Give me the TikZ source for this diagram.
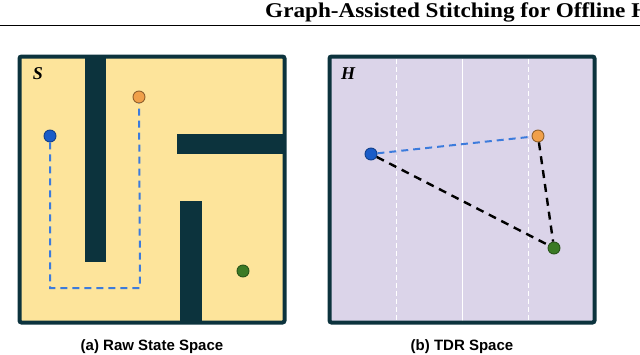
\documentclass[tikz,border=0pt]{standalone}
\usepackage{fontspec}
\setmainfont{Liberation Serif}
\newfontfamily\capfont{Liberation Sans}
\usetikzlibrary{positioning}

\definecolor{wall}{HTML}{0C333D}
\definecolor{mazefill}{HTML}{FDE49B}
\definecolor{tdrfill}{HTML}{DBD4E9}
\definecolor{dotblue}{HTML}{1A5CC8}
\definecolor{dotorange}{HTML}{F0A04A}
\definecolor{dotgreen}{HTML}{3B7A25}
\definecolor{pathblue}{HTML}{3C7BDC}

\begin{document}
\begin{tikzpicture}[x=1pt, y=-1pt,
    panel/.style={draw=wall, line width=4pt, rounded corners=2pt},
    wallbox/.style={fill=wall},
    dot/.style={circle, inner sep=0pt, minimum size=12pt, line width=0.9pt},
    bluedot/.style={dot, fill=dotblue, draw=dotblue!70!black},
    orangedot/.style={dot, fill=dotorange, draw=dotorange!60!black},
    greendot/.style={dot, fill=dotgreen, draw=dotgreen!70!black},
    bluelink/.style={pathblue, line width=2pt, dash pattern=on 7pt off 5pt},
    blacklink/.style={black, line width=2.4pt, dash pattern=on 8pt off 6pt},
    gridsolid/.style={white, line width=0.9pt},
    griddash/.style={gridsolid, dash pattern=on 5pt off 3pt},
    spacelabel/.style={font=\fontsize{18}{18}\selectfont\bfseries\itshape},
    caption/.style={font=\capfont\fontsize{15}{15}\selectfont\bfseries}]
  \useasboundingbox (0,0) rectangle (640,354);
  % running head
  \node[anchor=base west, inner sep=0pt, font=\fontsize{21}{21}\selectfont\bfseries] (head) at (265,17.5)
    {\scalebox{1.105}[1]{Graph-Assisted Stitching for Offline H}};
  \draw[line width=1.6pt] (0,25.5) -- (640,25.5);

  % (a) raw state space
  \fill[mazefill] (19.5,56.5) rectangle (284.5,322.5);
  \fill[wallbox] (85,58) rectangle (106,262);
  \fill[wallbox] (177,134) rectangle (284,154);
  \fill[wallbox] (180,201) rectangle (202,322);
  \draw[panel] (19.5,56.5) rectangle (284.5,322.5);
  \node[spacelabel] (S) at (38,74) {S};
  \coordinate (turn) at (140,288);
  \node[bluedot] (sblue) at (50,136) {};
  \node[orangedot] (sorange) at (139,97) {};
  \node[greendot] (sgreen) at (243,271) {};
  \draw[bluelink] (sblue) |- (turn) -- (sorange);
  \node[caption] (capa) at (152,346.5) {(a) Raw State Space};

  % (b) TDR space
  \fill[tdrfill] (329.5,56.5) rectangle (594.5,322.5);
  \foreach \x/\st in {396/griddash, 462/gridsolid, 528/griddash}
    \draw[\st] (\x,58.5) -- (\x,320.5);
  \draw[panel] (329.5,56.5) rectangle (594.5,322.5);
  \node[spacelabel] (H) at (348,74) {H};
  \node[bluedot] (hblue) at (371,154) {};
  \node[orangedot] (horange) at (538,136) {};
  \node[greendot] (hgreen) at (554,248) {};
  \draw[bluelink] (hblue) -- (horange);
  \draw[blacklink] (hblue) -- (hgreen);
  \draw[blacklink] (horange) -- (hgreen);
  \node[caption] (capb) at (462,346.5) {(b) TDR Space};
\end{tikzpicture}
\end{document}
